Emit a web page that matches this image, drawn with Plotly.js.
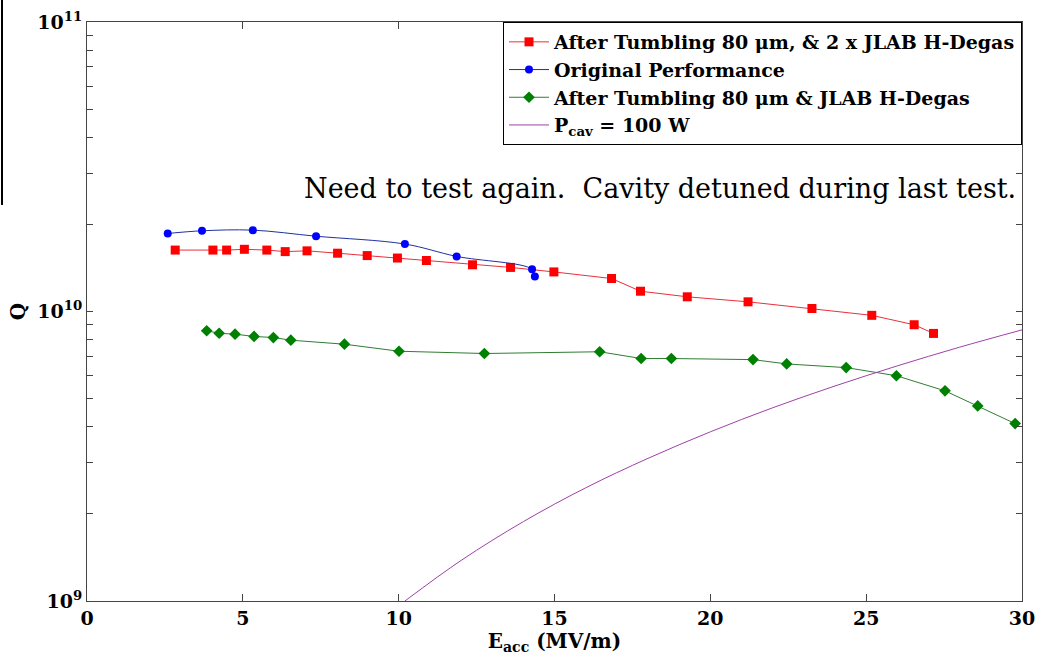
<!DOCTYPE html>
<html><head><meta charset="utf-8">
<script src="https://cdn.plot.ly/plotly-3.0.1.min.js"></script>
<style>body{margin:0;background:#fff}#c{width:1050px;height:663px}</style>
</head><body><div id="c"></div>
<script>
// After Tumbling 80 um, & 2 x JLAB H-Degas
const redE = [2.83,4.04,4.48,5.05,5.77,6.36,7.06,8.04,8.99,9.96,10.89,12.37,13.59,14.98,16.83,17.76,19.26,21.21,23.26,25.18,26.54,27.16];
const redQ = [1.63e10,1.63e10,1.63e10,1.64e10,1.63e10,1.61e10,1.62e10,1.59e10,1.56e10,1.53e10,1.50e10,1.45e10,1.42e10,1.37e10,1.30e10,1.175e10,1.124e10,1.08e10,1.024e10,9.7e9,9.0e9,8.4e9];
// Original Performance
const blueE = [2.59,3.69,5.32,7.35,10.20,11.86,14.28,14.37];
const blueQ = [1.86e10,1.90e10,1.91e10,1.82e10,1.71e10,1.55e10,1.40e10,1.32e10];
// After Tumbling 80 um & JLAB H-Degas
const greenE = [3.84,4.24,4.75,5.36,5.98,6.54,8.26,10.01,12.75,16.45,17.78,18.75,21.37,22.45,24.36,25.97,27.53,28.58,29.78];
const greenQ = [8.58e9,8.41e9,8.35e9,8.20e9,8.13e9,7.96e9,7.71e9,7.29e9,7.16e9,7.26e9,6.88e9,6.88e9,6.82e9,6.59e9,6.40e9,6.00e9,5.32e9,4.72e9,4.10e9];
// P_cav = 100 W
const pE = [10.2,12,14,16,18,20,22,24,26,28,30];
const pQ = [1.0e9,1.38e9,1.88e9,2.46e9,3.11e9,3.84e9,4.65e9,5.53e9,6.49e9,7.53e9,8.64e9];

const xTicks = [0,5,10,15,20,25,30];
const yDecades = [1e9,1e10,1e11];
const yDecadeLabels = ['10<sup>9</sup>','10<sup>10</sup>','10<sup>11</sup>'];
const yMinorMult = [2,3,4,5,6,7,8,9];

const yMinorVals = [];
for (let d = 0; d < yDecades.length - 1; d++) for (const m of yMinorMult) yMinorVals.push(yDecades[d]*m);

const FAM = '"DejaVu Serif", serif';

const traces = [
  {x: redE, y: redQ, mode:'lines+markers', name:'<b>After Tumbling 80 μm, & 2 x JLAB H-Degas</b>',
   line:{color:'#e8303a', width:1}, marker:{symbol:'square', color:'#ff0000', size:9}},
  {x: blueE, y: blueQ, mode:'lines+markers', name:'<b>Original Performance</b>',
   line:{color:'#2030a0', width:1, shape:'spline'}, marker:{symbol:'circle', color:'#0000ff', size:8}},
  {x: greenE, y: greenQ, mode:'lines+markers', name:'<b>After Tumbling 80 μm & JLAB H-Degas</b>',
   line:{color:'#2e7d32', width:1}, marker:{symbol:'diamond', color:'#008000', size:9}},
  {x: pE, y: pQ, mode:'lines', name:'<b>P<sub>cav</sub> = 100 W</b>',
   line:{color:'#a040a8', width:1, shape:'spline'}}
];

const layout = {
  width:1050, height:663,
  margin:{l:87, r:28, t:22, b:62},
  paper_bgcolor:'#fff', plot_bgcolor:'#fff',
  font:{family:FAM, color:'#000'},
  showlegend:true,
  legend:{x:1, y:1, xanchor:'right', yanchor:'top', bgcolor:'#fff', bordercolor:'#000', borderwidth:1,
    font:{family:FAM, size:19, color:'#000'}, tracegroupgap:0, itemwidth:40},
  xaxis:{range:[0,30], tickvals:xTicks, ticktext:xTicks.map(v=>'<b>'+v+'</b>'),
    ticks:'inside', ticklen:7, tickcolor:'#444', showline:true, linecolor:'#444', linewidth:1, mirror:'ticks',
    showgrid:false, zeroline:false, tickfont:{size:19, family:FAM},
    title:{text:'<b>E<sub>acc</sub> (MV/m)</b>', font:{size:20, family:FAM}, standoff:2}},
  yaxis:{type:'log', range:[9,11], tickmode:'array', tickvals:yDecades, ticktext:yDecadeLabels.map(t=>'<b>'+t+'</b>'),
    ticks:'inside', ticklen:6, tickcolor:'#444', showline:true, linecolor:'#444', linewidth:1, mirror:'ticks',
    minor:{tickmode:'array', tickvals:yMinorVals, ticks:'inside', ticklen:6, tickcolor:'#444', showgrid:false},
    showgrid:false, zeroline:false, tickfont:{size:19, family:FAM},
    title:{text:'<b>Q</b>', font:{size:20, family:FAM}, standoff:6}},
  annotations:[{xref:'paper', yref:'paper', x:0.9957, y:0.7116, xanchor:'right', yanchor:'middle', showarrow:false,
    text:'Need to test again.  Cavity detuned during last test.', font:{family:FAM, size:27, color:'#000'}}],
  shapes:[{type:'line', xref:'paper', yref:'paper', x0:-0.0909, x1:-0.0909, y0:1.038, y1:0.684, line:{color:'#000', width:2}}]
};

Plotly.newPlot('c', traces, layout, {displayModeBar:false, staticPlot:true});
</script>
</body></html>
